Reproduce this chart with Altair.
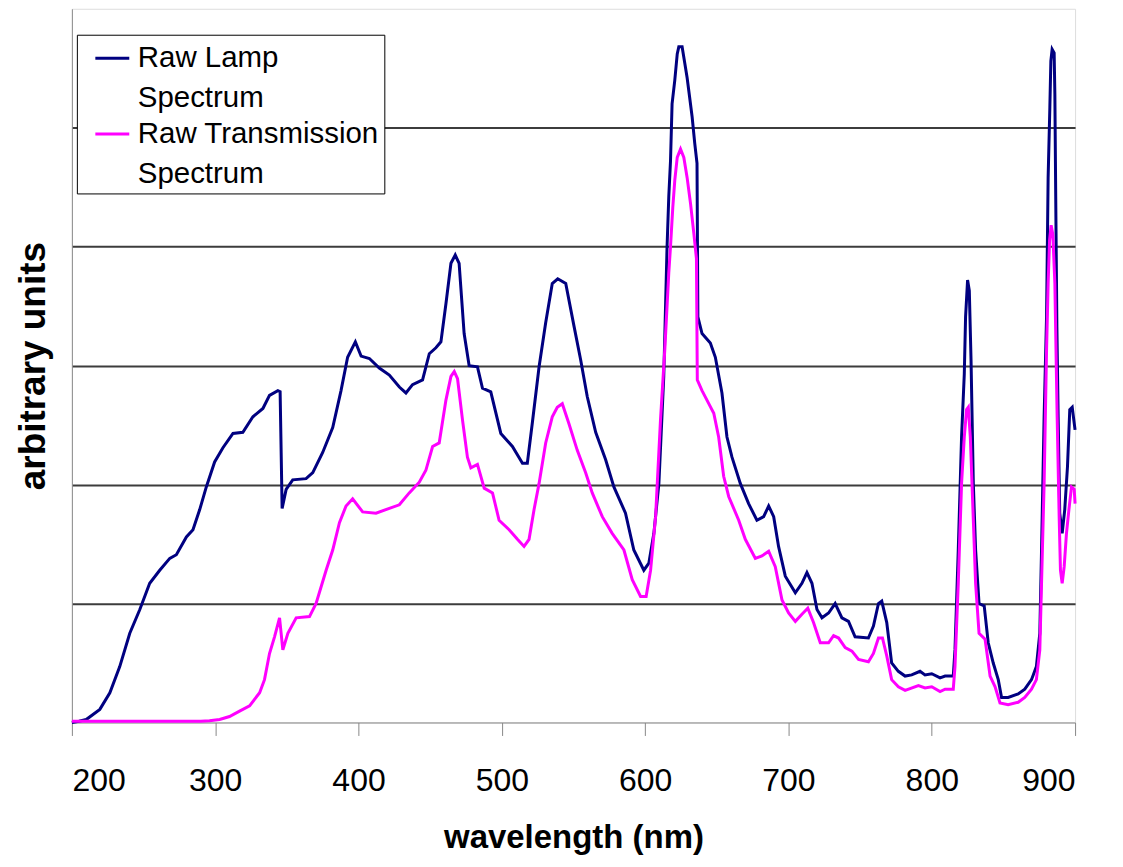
import altair as alt
import pandas as pd

# ---- data ----
lamp_nm = [200, 205, 210, 219.5, 226.5, 233.4, 240.4, 247.4, 254.3, 261.3,
           268.3, 272.9, 279.9, 284.5, 289.2, 293.8, 299.6, 305.4, 312.4, 319.3,
           326.3, 333.3, 337.9, 343.7, 345.3, 346.7, 349.5, 354.1, 363.4, 368.1,
           375, 382, 387.8, 392.4, 397.8, 401.8, 407.6, 414.5, 421.5, 428.5,
           433.1, 437.7, 444.7, 449.4, 454, 457.5, 461, 464.5, 467.5, 470.2,
           473.7, 477.2, 483, 486.5, 492.3, 499.3, 507.4, 514.4, 517.8, 521.3,
           526, 530.6, 535.2, 539, 544.6, 550.4, 555, 559.6, 565.5, 572.4,
           578.2, 586.3, 592.1, 599.1, 602.6, 606.1, 609.6, 613, 615.3, 616.5,
           617.7, 618.8, 620.7, 622.4, 623.5, 625.8, 627.7, 629.3, 631, 632.8,
           634.6, 636.2, 636.8, 639.7, 645.5, 649, 653.6, 657.1, 660.6, 666.4,
           672.2, 678, 682.7, 686.2, 689.7, 693.1, 697.8, 704.8, 709.4, 712.9,
           716.4, 719.9, 723.4, 728, 732.6, 737.3, 741.9, 746.5, 755.8, 759.3,
           762.8, 765.1, 768.6, 772, 776.7, 781.4, 786, 791.8, 795.3, 800,
           805.8, 809.3, 815, 816.2, 818.5, 820.8, 822.7, 823.6, 825, 826.2,
           827.4, 829, 830.6, 833, 836.6, 839.4, 842.9, 846.4, 848.7, 853.3,
           860.3, 864.9, 869.6, 873, 875.4, 876.6, 878.4, 880.1, 881.2, 882.4,
           883.1, 884, 885.4, 885.9, 886.5, 887.3, 888.2, 889.3, 891, 892.8,
           894.7, 896.3, 898, 900]
lamp_val = [0.0, 0.01, 0.025, 0.11, 0.25, 0.47, 0.75, 0.95, 1.17, 1.28,
            1.38, 1.41, 1.56, 1.62, 1.79, 1.98, 2.19, 2.31, 2.43, 2.44,
            2.57, 2.64, 2.75, 2.79, 2.78, 1.80, 1.96, 2.04, 2.05, 2.10,
            2.27, 2.48, 2.79, 3.07, 3.20, 3.08, 3.06, 2.98, 2.92, 2.82,
            2.77, 2.84, 2.88, 3.10, 3.15, 3.20, 3.52, 3.86, 3.93, 3.86,
            3.27, 3.00, 2.99, 2.81, 2.78, 2.43, 2.32, 2.18, 2.18, 2.52,
            2.99, 3.36, 3.69, 3.73, 3.69, 3.33, 3.05, 2.74, 2.44, 2.21,
            1.98, 1.76, 1.45, 1.28, 1.34, 1.59, 2.01, 2.91, 4.00, 4.42,
            4.72, 5.20, 5.40, 5.62, 5.68, 5.68, 5.54, 5.42, 5.26, 5.09,
            4.87, 4.70, 3.41, 3.27, 3.19, 3.07, 2.77, 2.40, 2.23, 2.01,
            1.84, 1.70, 1.73, 1.82, 1.73, 1.48, 1.23, 1.09, 1.17, 1.26,
            1.17, 0.95, 0.88, 0.92, 1.00, 0.88, 0.85, 0.72, 0.71, 0.81,
            1.00, 1.02, 0.84, 0.50, 0.43, 0.39, 0.40, 0.43, 0.40, 0.41,
            0.375, 0.39, 0.39, 0.61, 1.45, 2.40, 2.93, 3.41, 3.72, 3.63,
            3.05, 2.01, 1.45, 1.00, 0.98, 0.67, 0.50, 0.36, 0.21, 0.21,
            0.24, 0.28, 0.36, 0.47, 0.75, 1.45, 2.57, 3.41, 4.58, 5.17,
            5.56, 5.66, 5.63, 5.28, 4.42, 3.33, 2.57, 1.76, 1.59, 1.79,
            2.15, 2.63, 2.65, 2.46]

trans_nm = [200, 290, 296, 303.1, 310, 317, 324, 331, 334.4, 337.9,
            341.4, 344.9, 347.2, 350.7, 356.5, 365.8, 370.4, 377.4, 382, 386.7,
            391.3, 395.9, 402.9, 412.2, 421.5, 428.5, 435.4, 442.4, 447, 451.7,
            456.3, 461, 464.5, 466.8, 469.1, 472.6, 476, 478.4, 483, 487.7,
            493.5, 498.1, 505.1, 510.9, 515.5, 519, 522.5, 526, 530.6, 535.2,
            538.7, 542.2, 546.9, 552.6, 558.5, 563.1, 570.1, 577, 585.2, 591,
            596.8, 600.7, 603.8, 607.3, 610.7, 613.7, 616.5, 617.7, 619.3, 620.7,
            622.4, 624.7, 627, 629.3, 631.7, 634, 635.8, 636.4, 639.7, 644.4,
            647.9, 651.3, 654.8, 658.3, 665.3, 669.9, 676.9, 681.5, 686.2, 690.8,
            695.5, 700.1, 704.8, 709.4, 713.5, 717.5, 722.2, 728, 731.5, 735,
            739.6, 744.3, 748.9, 755.8, 759.3, 762.8, 765.6, 768.6, 772, 776.7,
            781.4, 790.7, 795.3, 800, 805.8, 809.3, 815, 816.2, 818.5, 820.8,
            822.7, 824.3, 825.5, 826.9, 828.5, 830.6, 833, 837.2, 840.7, 844.2,
            847.6, 853.3, 860.3, 864.9, 869.6, 873, 875.4, 876.6, 878.4, 880.1,
            881.2, 882.2, 883.3, 884.5, 885.9, 887.5, 888.9, 889.8, 891, 892.4,
            894, 895.7, 897.5, 899.4, 900]
trans_val = [0.01, 0.01, 0.015, 0.025, 0.05, 0.095, 0.14, 0.25, 0.36, 0.58,
             0.72, 0.88, 0.61, 0.75, 0.88, 0.89, 1.00, 1.28, 1.45, 1.68,
             1.82, 1.88, 1.77, 1.76, 1.80, 1.83, 1.93, 2.02, 2.12, 2.32,
             2.35, 2.71, 2.91, 2.95, 2.89, 2.54, 2.23, 2.14, 2.17, 1.97,
             1.93, 1.70, 1.62, 1.54, 1.48, 1.54, 1.79, 2.01, 2.35, 2.57,
             2.65, 2.68, 2.51, 2.29, 2.10, 1.93, 1.73, 1.59, 1.45, 1.20,
             1.06, 1.06, 1.28, 1.73, 2.54, 3.13, 3.78, 4.00, 4.33, 4.56,
             4.75, 4.82, 4.75, 4.58, 4.36, 4.11, 3.90, 2.88, 2.79, 2.68,
             2.60, 2.40, 2.07, 1.90, 1.70, 1.54, 1.38, 1.40, 1.44, 1.31,
             1.03, 0.92, 0.85, 0.91, 0.96, 0.84, 0.67, 0.67, 0.73, 0.71,
             0.63, 0.60, 0.53, 0.51, 0.58, 0.71, 0.71, 0.56, 0.36, 0.30,
             0.27, 0.31, 0.29, 0.30, 0.26, 0.28, 0.28, 0.47, 1.17, 2.01,
             2.40, 2.63, 2.65, 2.40, 1.87, 1.17, 0.75, 0.70, 0.39, 0.30,
             0.165, 0.15, 0.17, 0.21, 0.28, 0.36, 0.61, 1.17, 2.01, 3.13,
             3.69, 4.05, 4.18, 4.10, 3.69, 2.57, 1.73, 1.28, 1.17, 1.31,
             1.59, 1.79, 1.98, 1.96, 1.84]

series_names = ["Raw Lamp Spectrum", "Raw Transmission Spectrum"]
series_colors = ["#000080", "#FF00FF"]
x_ticks = [200, 300, 400, 500, 600, 700, 800, 900]
y_grid = [1, 2, 3, 4, 5]

frames = []
for i, (nm, val) in enumerate([(lamp_nm, lamp_val), (trans_nm, trans_val)]):
    frames.append(pd.DataFrame({"nm": nm, "value": val,
                                "series": series_names[i], "order": range(len(nm))}))
df = pd.concat(frames, ignore_index=True)

FONT = "Liberation Sans"

label_expr = ("datum.label == 'Raw Lamp Spectrum' ? ['Raw Lamp', 'Spectrum'] : "
              "['Raw Transmission', 'Spectrum']")

chart = alt.Chart(df).mark_line(strokeWidth=3, interpolate="linear").encode(
    x=alt.X("nm:Q", scale=alt.Scale(domain=[200, 900], nice=False, zero=False),
            axis=alt.Axis(title="wavelength (nm)", values=x_ticks, grid=False,
                          labelFontSize=32, labelPadding=30, tickSize=13,
                          titlePadding=25, titleFontSize=33)),
    y=alt.Y("value:Q", scale=alt.Scale(domain=[0, 6], nice=False),
            axis=alt.Axis(title="arbitrary units", values=y_grid, labels=False,
                          ticks=False, grid=True, gridColor="#3c3c3c", gridWidth=2,
                          domainColor="#8c8c8c", titlePadding=19, titleFontSize=37)),
    color=alt.Color("series:N",
                    scale=alt.Scale(domain=series_names, range=series_colors),
                    legend=alt.Legend(
                        title=None, orient="none", legendX=5, legendY=26,
                        labelExpr=label_expr,
                        labelFontSize=29.5, labelFont=FONT, labelLimit=500,
                        symbolType="stroke", symbolSize=1156, symbolStrokeWidth=3,
                        symbolOffset=12, labelOffset=7, padding=5,
                        strokeColor="#000000", fillColor="#ffffff", rowPadding=3)),
    order="order:Q",
).properties(
    width=1005, height=715,
    autosize=alt.AutoSizeParams(type="none"),
    padding={"left": 64, "top": 0, "right": 40, "bottom": 136},
).configure_view(
    stroke="#8c8c8c", strokeWidth=2
).configure_axis(
    labelFont=FONT, titleFont=FONT, labelColor="#000000", titleColor="#000000",
    titleFontWeight="bold", domainWidth=2, tickWidth=2,
).configure_axisX(
    domainColor="#3c3c3c", tickColor="#3c3c3c"
).configure(
    style={"guide-label": {"lineHeight": 40}}
)

chart.save("out.html", embed_options={"renderer": "svg", "actions": False})
